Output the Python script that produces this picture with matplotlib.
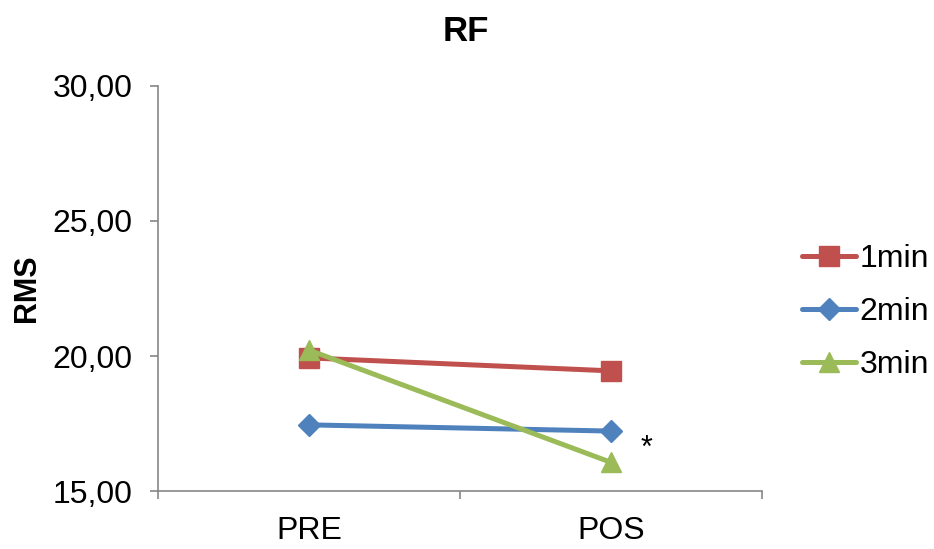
import matplotlib.pyplot as plt
from matplotlib.ticker import FixedLocator, FuncFormatter

plt.rcParams['font.family'] = ['Liberation Sans', 'DejaVu Sans']

# data
categories = ["PRE", "POS"]
series_names = ["1min", "2min", "3min"]
min1 = [19.93, 19.45]
min2 = [17.45, 17.22]
min3 = [20.22, 16.06]
y_ticks = [15, 20, 25, 30]

colors = ["#C0504D", "#4F81BD", "#9BBB59"]
markers = ["s", "D", "^"]
sizes = [14, 11, 15]

fig = plt.figure(figsize=(9.34, 5.49), dpi=100)
ax = fig.add_axes([0.169, 0.1056, 0.647, 0.7378])

x = list(range(len(categories)))
for vals, name, c, m, ms in zip([min1, min2, min3], series_names, colors, markers, sizes):
    ax.plot(x, vals, color=c, marker=m, markersize=ms, linewidth=3.6, label=name,
            solid_capstyle='round')

# significance mark
ax.text(1.117, 16.55, "*", fontsize=22, ha='center', va='center')

ax.set_xlim(-0.5, 1.5)
ax.set_ylim(15, 30)
ax.set_yticks(y_ticks)
ax.yaxis.set_major_formatter(FuncFormatter(lambda v, p: f"{v:.2f}".replace(".", ",")))

ax.xaxis.set_major_locator(FixedLocator([-0.5, 0.5, 1.5]))
ax.xaxis.set_minor_locator(FixedLocator(x))
ax.set_xticklabels([], minor=False)
ax.set_xticklabels(categories, minor=True)
ax.tick_params(axis='x', which='minor', length=0, labelsize=23, pad=18)
ax.tick_params(axis='x', which='major', length=6, color='#868686', width=1.2)
ax.tick_params(axis='y', length=6, color='#868686', width=1.2, labelsize=23, pad=12)

for s in ['top', 'right']:
    ax.spines[s].set_visible(False)
for s in ['left', 'bottom']:
    ax.spines[s].set_color('#868686')
    ax.spines[s].set_linewidth(1.2)

ax.set_ylabel("RMS", fontsize=22, fontweight='bold', labelpad=8)
fig.text(0.499, 0.943, "RF", fontsize=25, fontweight='bold', ha='center', va='center')

fig.legend(loc='center left', bbox_to_anchor=(0.845, 0.432), frameon=False,
           fontsize=23, handlelength=1.7, handletextpad=0.1, labelspacing=0.72,
           borderaxespad=0)

fig.savefig("out.png", dpi=100)
